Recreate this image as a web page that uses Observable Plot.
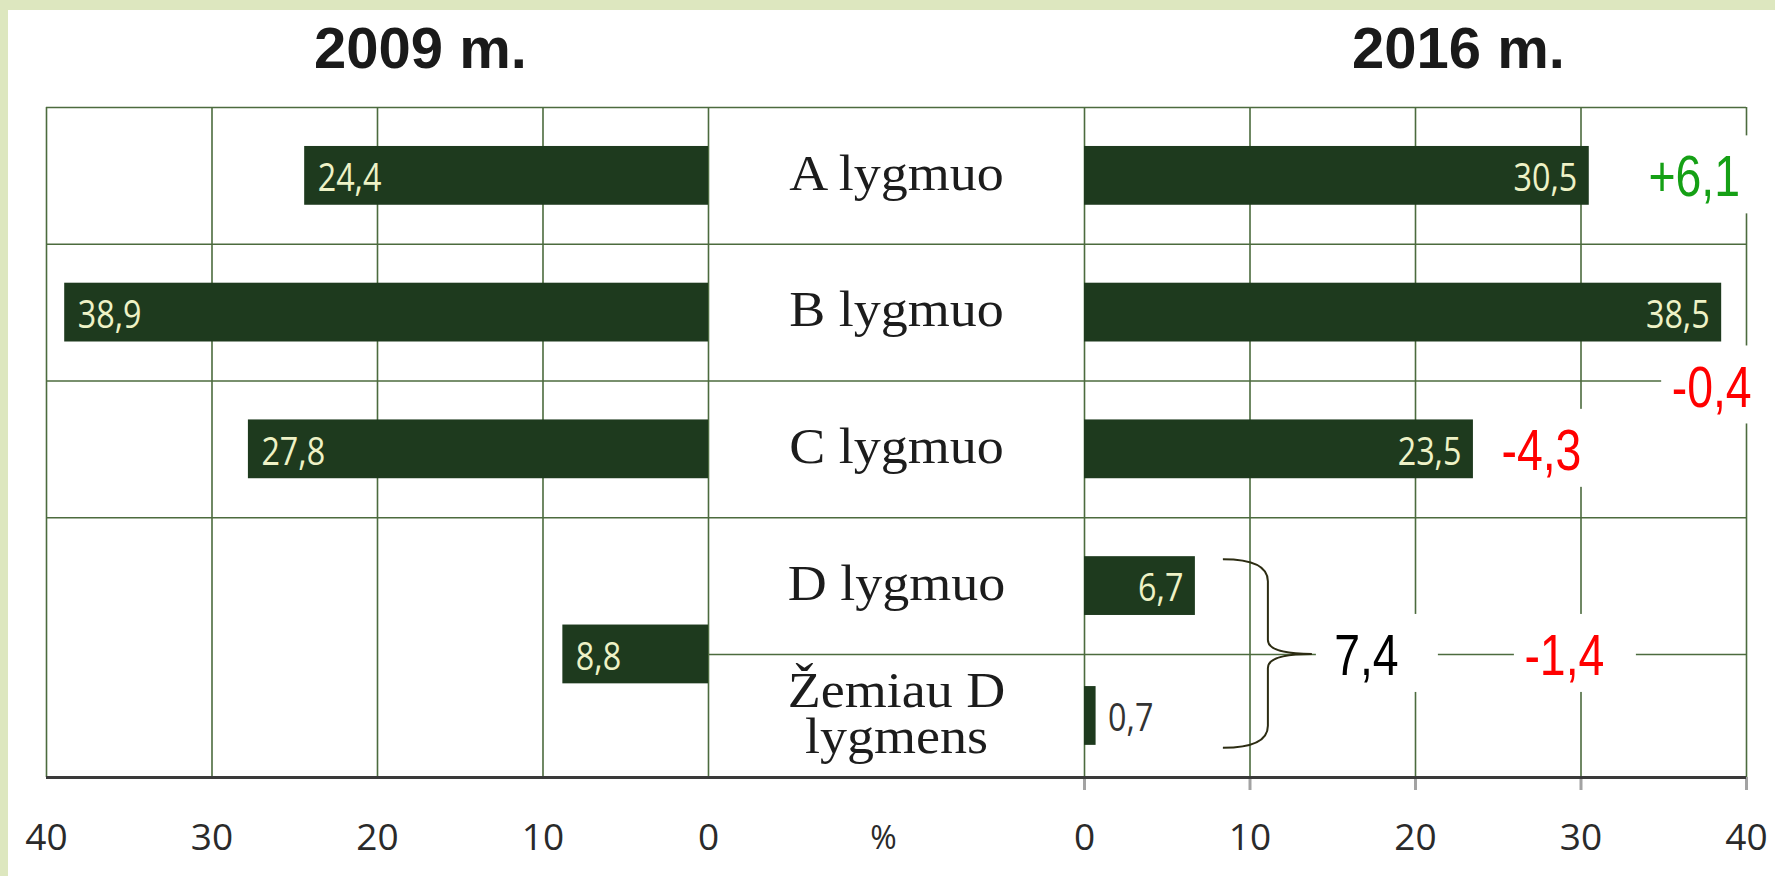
<!DOCTYPE html>
<html>
<head>
<meta charset="utf-8">
<script src="https://cdn.jsdelivr.net/npm/d3@7"></script>
<script src="https://cdn.jsdelivr.net/npm/@observablehq/plot@0.6"></script>
<style>
  html, body { margin: 0; padding: 0; background: #ffffff; }
  body { border-top: 10px solid #dde7bf; border-left: 8px solid #dde7bf; width: 1767px; height: 866px; overflow: hidden; }
  #chart svg { display: block; }
</style>
</head>
<body>
<div id="chart"></div>
<script>
// ---------- data ----------
const levels = ["A lygmuo", "B lygmuo", "C lygmuo", "D lygmuo", "Žemiau D lygmens"];
const share2016 = [30.5, 38.5, 23.5, 6.7, 0.7];
const groups2009 = ["A lygmuo", "B lygmuo", "C lygmuo", "D lygmuo ir žemiau"];
const share2009 = [24.4, 38.9, 27.8, 8.8];
const yearTitles = ["2009 m.", "2016 m."];
const tickValues = [0, 10, 20, 30, 40];
const axisUnit = "%";

// ---------- layout ----------
const W = 1767, H = 866;
const M = {left: 38, right: 29, top: 97, bottom: 99};
const MAXV = 40;
const GAP = 22.72;            // width of the central label strip, in % units
const BOTTOM = 4.9;           // last row is truncated by the axis
const BAR = 0.43;             // bar thickness in row units
const PXU = (W - M.left - M.right) / (2 * MAXV + GAP);
const leftX = v => -(GAP + v);
const rowTop = i => i;
const rowBottom = i => Math.min(i + 1, BOTTOM);
const rowMid = i => (rowTop(i) + rowBottom(i)) / 2;
const fmt = v => (+v.toFixed(1)).toFixed(1).replace(".", ",");
const fmtChange = v => (v > 0 ? "+" : "") + fmt(v);

const GRID = "#4c6b3e", BARC = "#1e3a1e", BARTXT = "#eef2c6";
const SANS = "'Liberation Sans', Arial, sans-serif";
const HUMAN = "'Open Sans', 'Liberation Sans', sans-serif";
const POS = "#15a015", NEG = "#ff0000";

const bars2016 = levels.map((c, i) => ({c, v: share2016[i], y: rowMid(i)}));
const bars2009 = groups2009.map((g, i) => ({g, v: share2009[i], y: i < 3 ? rowMid(i) : rowBottom(3)}));

const sumDlow = share2016[3] + share2016[4];
const annots = [
  {text: fmtChange(share2016[0] - share2009[0]), x: share2016[0] + 105 / PXU, y: rowMid(0)},
  {text: fmtChange(share2016[1] - share2009[1]), x: share2016[1] - 10 / PXU, y: rowBottom(1) + 5 / 136.7},
  {text: fmtChange(share2016[2] - share2009[2]), x: share2016[2] + 68 / PXU, y: rowMid(2)},
  {text: fmt(sumDlow), x: share2016[3] + 171 / PXU, y: rowBottom(3), black: true},
  {text: fmtChange(sumDlow - share2009[3]), x: share2016[3] + 369 / PXU, y: rowBottom(3)}
].map(a => ({...a, color: a.black ? "#000000" : (a.text.startsWith("+") ? POS : NEG)}));

function brace(index, scales) {
  const x0 = scales.x(share2016[3]) + 28;
  const x1 = x0 + 45, xt = x0 + 89;
  const yT = scales.y(rowMid(3) - BAR / 2) + 3;
  const yB = scales.y(rowMid(4) + BAR / 2) + 3;
  const yM = scales.y(rowBottom(3));
  const p = `M${x0},${yT} Q${x1},${yT} ${x1},${yT + 22} L${x1},${yM - 14} Q${x1},${yM} ${xt},${yM} ` +
            `Q${x1},${yM} ${x1},${yM + 14} L${x1},${yB - 22} Q${x1},${yB} ${x0},${yB}`;
  return d3.create("svg:path").attr("d", p).attr("fill", "none")
    .attr("stroke", "#2c2c12").attr("stroke-width", 2).node();
}

const chart = Plot.plot({
  width: W, height: H,
  marginLeft: M.left, marginRight: M.right, marginTop: M.top, marginBottom: M.bottom,
  x: {domain: [leftX(MAXV), MAXV], axis: null},
  y: {domain: [0, BOTTOM], reverse: true, axis: null},
  color: {type: "identity"},
  style: {background: "#ffffff", overflow: "visible"},
  marks: [
    // grid
    Plot.ruleX(tickValues, {x: d => leftX(d), y1: 0, y2: BOTTOM, stroke: GRID, strokeWidth: 1.6}),
    Plot.ruleX(tickValues, {x: d => d, y1: 0, y2: BOTTOM, stroke: GRID, strokeWidth: 1.6}),
    Plot.ruleY(d3.range(levels.length - 1), {y: d => rowTop(d), x1: leftX(MAXV), x2: MAXV, stroke: GRID, strokeWidth: 1.6}),
    Plot.ruleY([levels.length - 1], {y: d => rowTop(d), x1: leftX(0), x2: MAXV, stroke: GRID, strokeWidth: 1.6}),
    Plot.ruleX(tickValues, {x: d => d, y1: BOTTOM, y2: BOTTOM, insetBottom: -13, stroke: "#a3a3a3", strokeWidth: 3}),
    Plot.ruleY([BOTTOM], {x1: leftX(MAXV), x2: MAXV, stroke: "#3a3a3a", strokeWidth: 3}),
    // bars
    Plot.rect(bars2009, {x1: leftX(0), x2: d => leftX(d.v), y1: d => d.y - BAR / 2, y2: d => d.y + BAR / 2, fill: BARC}),
    Plot.rect(bars2016, {x1: 0, x2: "v", y1: d => d.y - BAR / 2, y2: d => d.y + BAR / 2, fill: BARC}),
    // bar labels (condensed)
    Plot.text(bars2009, {x: d => leftX(d.v), y: "y", text: d => fmt(d.v), textAnchor: "start", dx: 13, dy: 3,
      fill: BARTXT, fontFamily: HUMAN, fontSize: 38, ariaDescription: "condensed"}),
    Plot.text(bars2016.filter(d => d.v >= 3), {x: "v", y: "y", text: d => fmt(d.v), textAnchor: "end", dx: -12, dy: 3,
      fill: BARTXT, fontFamily: HUMAN, fontSize: 38, ariaDescription: "condensed"}),
    Plot.text(bars2016.filter(d => d.v < 3), {x: "v", y: "y", text: d => fmt(d.v), textAnchor: "start", dx: 12, dy: 3,
      fill: "#333333", fontFamily: HUMAN, fontSize: 38, ariaDescription: "condensed"}),
    // category labels
    Plot.text(levels, {x: -GAP / 2, y: (d, i) => rowMid(i), text: d => d, lineWidth: 6, lineHeight: 0.9, dy: -1,
      fontFamily: "'Liberation Serif', 'DejaVu Serif', serif", fontSize: 51, fill: "#1c1c1c", ariaDescription: "serif"}),
    // annotation boxes and texts
    Plot.rect(annots, {x1: "x", x2: "x", y1: "y", y2: "y", insetLeft: -50, insetRight: -72, insetTop: -40, insetBottom: -38, fill: "#ffffff"}),
    brace,
    Plot.text(annots, {x: "x", y: "y", text: "text", fill: "color", dy: 2, fontFamily: SANS, fontSize: 58, ariaDescription: "narrow"}),
    // titles
    Plot.text(yearTitles, {x: (d, i) => i === 0 ? leftX(MAXV / 2) : MAXV / 2, frameAnchor: "top", lineAnchor: "middle", dx: 43, dy: -58,
      fontFamily: SANS, fontWeight: "bold", fontSize: 58, fill: "#1a1a1a"}),
    // tick labels
    Plot.text(tickValues, {x: d => leftX(d), text: d => String(d), frameAnchor: "bottom", lineAnchor: "middle", dy: 61,
      fontFamily: HUMAN, fontSize: 37, fill: "#2a2a2a"}),
    Plot.text(tickValues, {x: d => d, text: d => String(d), frameAnchor: "bottom", lineAnchor: "middle", dy: 61,
      fontFamily: HUMAN, fontSize: 37, fill: "#2a2a2a"}),
    Plot.text([axisUnit], {x: -GAP / 2, dx: -13, frameAnchor: "bottom", lineAnchor: "middle", dy: 61,
      fontFamily: HUMAN, fontSize: 32, fill: "#2a2a2a"})
  ]
});

// horizontal scaling of texts whose typeface is narrower/wider than the installed fonts
function stretch(label, k) {
  chart.querySelectorAll(`g[aria-description="${label}"] text`).forEach(t => {
    const tr = t.getAttribute("transform") || "";
    t.setAttribute("transform", `${tr} scale(${k},1)`.trim());
  });
}
stretch("narrow", 0.8);
stretch("condensed", 0.85);
stretch("serif", 1.06);

document.getElementById("chart").appendChild(chart);
</script>
</body>
</html>
